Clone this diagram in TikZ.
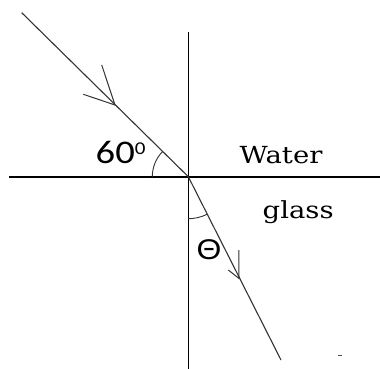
\documentclass[tikz,border=0pt]{standalone}
\usepackage{fontspec}
\setmainfont{DejaVu Serif}
\newfontfamily\calfont{Carlito}
\newfontfamily\thfont{Liberation Sans}
\newcommand{\wide}[1]{\scalebox{1.17}[1]{#1}}
\begin{document}
\begin{tikzpicture}[x=1pt,y=-1pt,
  axis/.style={line width=1.6pt,black},
  ray/.style={line width=1.1pt,black!80},
  arm/.style={line width=1.0pt,black!80},
  anglearc/.style={line width=0.9pt,black!80},
  lbl/.style={inner sep=0pt,anchor=base west}]
\useasboundingbox (0,0) rectangle (380,369);
% axes
\coordinate (O) at (188.3,176.7);
\coordinate (V1) at (188.3,32);
\coordinate (V2) at (188.3,369);
\coordinate (H1) at (9,176.7);
\coordinate (H2) at (380,176.7);
\draw[axis] (V1) -- (V2);
\draw[axis] (H1) -- (H2);
% rays
\coordinate (A) at (21.7,12.7);
\coordinate (B) at (281,360);
\draw[ray] (A) -- (O);
\draw[ray] (O) -- (B);
% incident arrow
\coordinate (T1) at (115,105);
\coordinate (T1a) at (101.7,65);
\coordinate (T1b) at (83.3,94.3);
\draw[arm] (T1a) -- (T1) -- (T1b);
% refracted arrow
\coordinate (T2) at (238.8,278.3);
\coordinate (T2a) at (238.8,250);
\coordinate (T2b) at (228.3,270);
\draw[arm] (T2a) -- (T2) -- (T2b);
% angle arcs
\draw[anglearc] ([shift={(180:36)}]O) arc[start angle=180,end angle=225,radius=36];
\draw[anglearc] ([shift={(90:42)}]O) arc[start angle=90,end angle=63,radius=42];
% labels
\node[lbl] (w) at (239.5,163.3) {\wide{\fontsize{23.5}{23.5}\selectfont Water}};
\node[lbl] (g) at (262.5,218) {\wide{\fontsize{23.5}{23.5}\selectfont glass}};
\node[lbl] (s) at (95.5,163.3) {\wide{\calfont\fontsize{33}{33}\selectfont 60\raisebox{8.5pt}{\fontsize{18}{18}\selectfont 0}}};
\node[inner sep=0pt] (th) at (209,249.3) {\scalebox{1.12}[1]{\thfont\fontsize{28.5}{28.5}\selectfont Θ}};
% small dash
\coordinate (D1) at (338,355.7);
\coordinate (D2) at (342,355.7);
\draw[line width=1.2pt,black!70] (D1) -- (D2);
\end{tikzpicture}
\end{document}
